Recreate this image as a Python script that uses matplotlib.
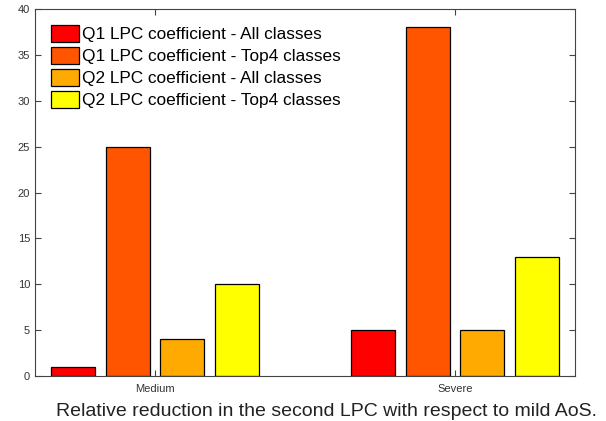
import numpy as np
import matplotlib.pyplot as plt

plt.rcParams['font.family'] = ['Liberation Sans', 'DejaVu Sans']

groups = ['Medium', 'Severe']
series = [
    'Q1 LPC coefficient - All classes',
    'Q1 LPC coefficient - Top4 classes',
    'Q2 LPC coefficient - All classes',
    'Q2 LPC coefficient - Top4 classes',
]
values = [
    [1, 5],
    [25, 38],
    [4, 5],
    [10, 13],
]
colors = ['#ff0000', '#ff5500', '#ffaa00', '#ffff00']

fig = plt.figure(figsize=(6.06, 4.21), dpi=100)
ax = fig.add_axes([0.0578, 0.1069, 0.891, 0.8717])

x = np.arange(1, len(groups) + 1)
pitch = 0.182
width = 0.146
for i, (name, vals, c) in enumerate(zip(series, values, colors)):
    off = (i - 1.5) * pitch
    ax.bar(x + off, vals, width, color=c, edgecolor='black', linewidth=0.9,
           label=name, zorder=2)

ax.set_xlim(0.6, 2.4)
ax.set_ylim(0, 40)
ax.set_xticks(x)
ax.set_xticklabels(groups, fontsize=8, color='#333333')
ax.set_yticks(np.arange(0, 41, 5))
ax.tick_params(axis='y', labelsize=8, labelcolor='#333333')
ax.tick_params(direction='in', top=True, right=True, length=4,
               color='#444444', width=0.8)
ax.tick_params(axis='x', pad=6)
for s in ax.spines.values():
    s.set_color('#444444')
    s.set_linewidth(0.8)

ax.set_xlabel('Relative reduction in the second LPC with respect to mild AoS.',
              fontsize=14, color='#222222')
ax.xaxis.set_label_coords(0.539, -0.074)

ax.legend(loc='upper left', frameon=False, fontsize=12.4,
          handlelength=1.63, handleheight=1.1, handletextpad=0.18,
          labelspacing=0.28, borderpad=0, borderaxespad=0,
          bbox_to_anchor=(0.0296, 0.956))

fig.savefig('out.png', dpi=100)
